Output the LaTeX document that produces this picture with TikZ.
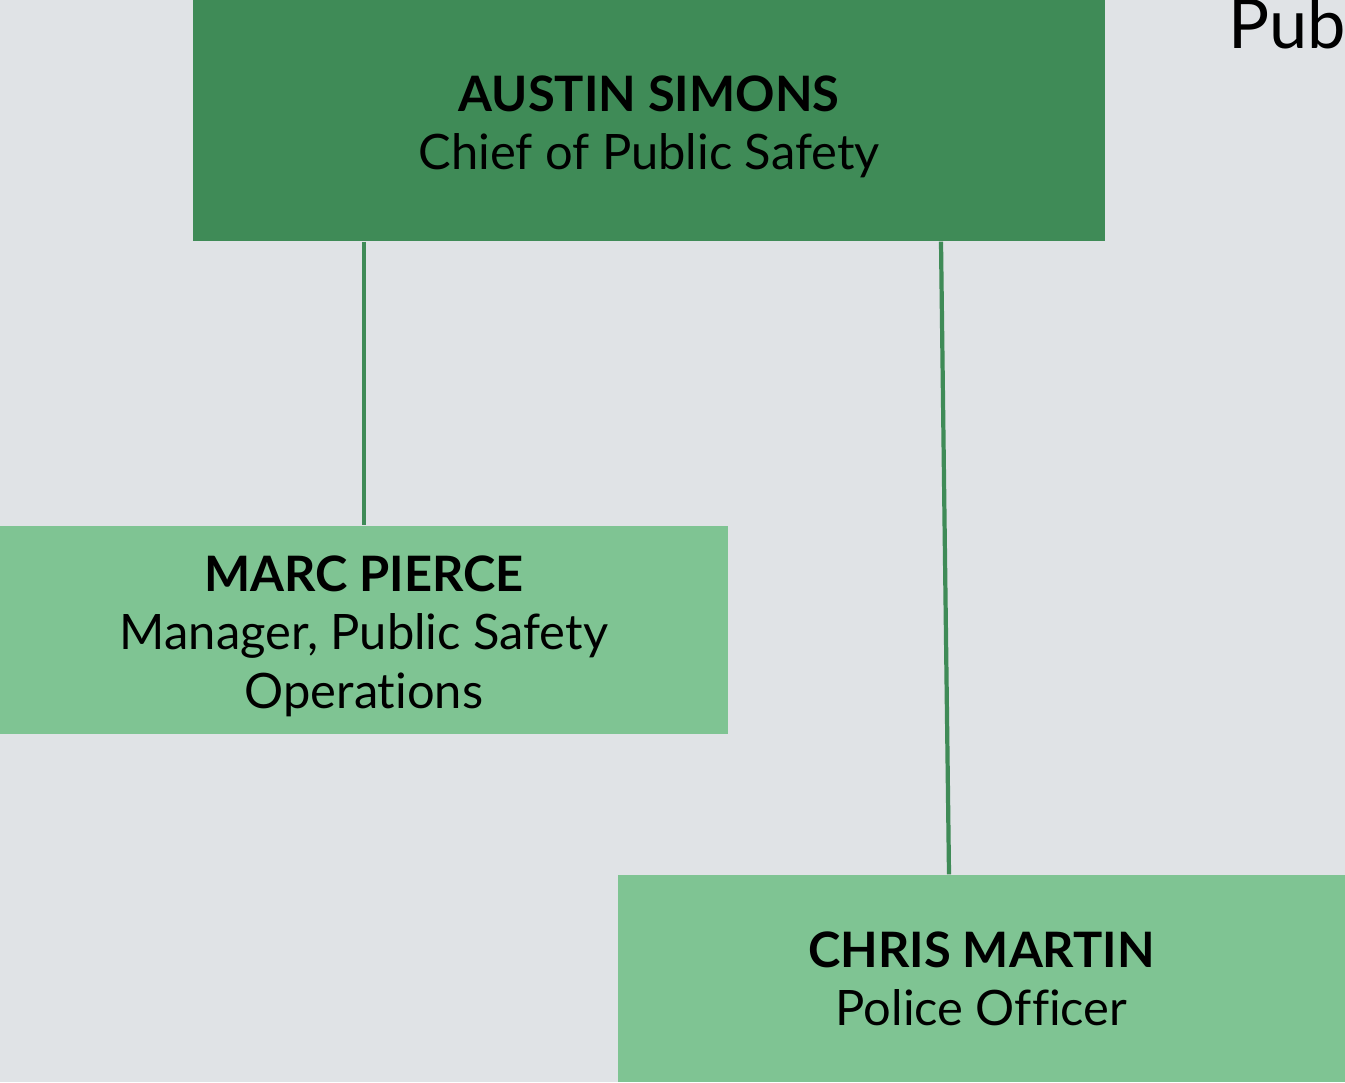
\documentclass[tikz,border=0pt]{standalone}
\usepackage{fontspec}
\setmainfont{Lato}[Ligatures=CommonOff]
\usepackage{xcolor}
\usetikzlibrary{positioning}

\definecolor{bgGray}{RGB}{224,227,230}
\definecolor{darkGreen}{RGB}{63,139,87}
\definecolor{lightGreen}{RGB}{127,196,147}

\tikzset{
  person/.style={rectangle, inner sep=0pt, align=center, text=black,
    font=\fontsize{13.9}{16.6}\selectfont},
  chiefbox/.style={rectangle, inner sep=0pt, fill=darkGreen, minimum width=9.12cm, minimum height=2.41cm},
  staffbox/.style={rectangle, inner sep=0pt, fill=lightGreen, minimum width=7.28cm, minimum height=2.08cm},
  link/.style={draw=darkGreen, line width=1.2pt}
}

\begin{document}
\begin{tikzpicture}
  \fill[bgGray] (0,0) rectangle (13.45,-10.82);
  \clip (0,0) rectangle (13.45,-10.82);
  \useasboundingbox (0,0) rectangle (13.45,-10.82);

  % boxes
  \node[chiefbox] (chief) at (6.49,-1.205) {};
  \node[staffbox] (mgr) at (3.64,-6.30) {};
  \node[staffbox, minimum height=2.07cm] (officer) at (9.815,-9.785) {};

  % names and titles
  \node[person] (chiefname) at ([yshift=-0.06cm]chief.center) {\textbf{AUSTIN SIMONS}\\Chief of Public Safety};
  \node[person] (mgrname) at ([yshift=-0.06cm]mgr.center) {\textbf{MARC PIERCE}\\Manager, Public Safety\\Operations};
  \node[person] (officername) at (officer.center) {\textbf{CHRIS MARTIN}\\Police Officer};
  \node[anchor=base west, inner sep=0pt, font=\fontsize{19.5}{22}\selectfont] (title) at (12.28,-0.48) {Public Safety};

  \draw[link] (chief.south -| mgr.north) -- (mgr.north);
  \draw[link] ([xshift=2.92cm]chief.south) -- ([xshift=-0.325cm]officer.north);
\end{tikzpicture}
\end{document}
